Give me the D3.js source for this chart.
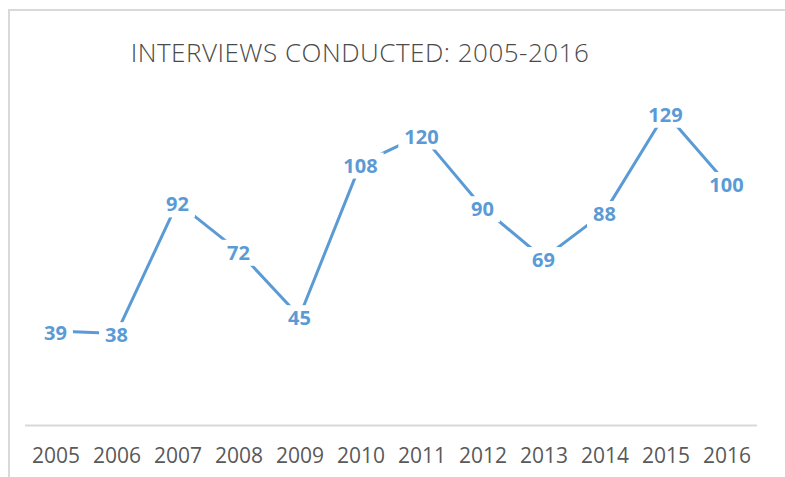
<!DOCTYPE html>
<html>
<head>
<meta charset="utf-8">
<script src="https://cdn.jsdelivr.net/npm/d3@7"></script>
<style>
  html, body { margin: 0; padding: 0; background: #fff; }
  svg { display: block; }
</style>
</head>
<body>
<script>
const years = ["2005","2006","2007","2008","2009","2010","2011","2012","2013","2014","2015","2016"];
const interviews = [39, 38, 92, 72, 45, 108, 120, 90, 69, 88, 129, 100];
const chartTitle = "INTERVIEWS CONDUCTED: 2005-2016";
const yDomain = [0, 140];

const W = 785, H = 477;
const svg = d3.select("body").append("svg").attr("width", W).attr("height", H);

// chart area border
svg.append("rect")
  .attr("x", 9).attr("y", 10).attr("width", 900).attr("height", 600)
  .attr("fill", "#fff").attr("stroke", "#d9d9d9").attr("stroke-width", 2);

const plot = { left: 25, right: 757, top: 86.4, bottom: 425.5 };

const x = d3.scalePoint().domain(years).range([plot.left, plot.right]).padding(0.5);
const y = d3.scaleLinear().domain(yDomain).range([plot.bottom, plot.top]);

// title
svg.append("text")
  .attr("x", 360).attr("y", 52)
  .attr("text-anchor", "middle")
  .attr("dominant-baseline", "central")
  .attr("font-family", "Open Sans")
  .attr("font-weight", 300)
  .attr("font-size", 26)
  .attr("letter-spacing", 0.5)
  .attr("fill", "#4a4a4a")
  .text(chartTitle);

// x axis
const xAxis = d3.axisBottom(x).tickSize(0).tickPadding(0);
const gx = svg.append("g").attr("transform", `translate(0,${y(0)})`).call(xAxis);
gx.select(".domain").attr("d", `M${plot.left},0H${plot.right}`)
  .attr("stroke", "#d9d9d9").attr("stroke-width", 2);
gx.selectAll(".tick text")
  .attr("y", 30).attr("dy", "0.35em")
  .attr("font-family", "Open Sans")
  .attr("font-size", 21)
  .attr("fill", "#595959");

// line
const line = d3.line().x((d, i) => x(years[i])).y(d => y(d));
svg.append("path")
  .datum(interviews)
  .attr("d", line)
  .attr("fill", "none")
  .attr("stroke", "#5b9bd5")
  .attr("stroke-width", 3)
  .attr("stroke-linejoin", "round");

// labels with white background boxes
const lg = svg.append("g");
const labels = lg.selectAll("g").data(interviews).join("g")
  .attr("transform", (d, i) => `translate(${x(years[i])},${y(d) + 1.5})`);
labels.append("text")
  .attr("text-anchor", "middle")
  .attr("dy", "0.36em")
  .attr("font-family", "Open Sans")
  .attr("font-weight", 700)
  .attr("font-size", 20)
  .attr("fill", "#5b9bd5")
  .text(d => d);
labels.each(function() {
  const t = d3.select(this).select("text");
  const bb = t.node().getBBox();
  d3.select(this).insert("rect", "text")
    .attr("x", bb.x - 6).attr("y", bb.y + 1)
    .attr("width", bb.width + 12).attr("height", bb.height - 1)
    .attr("fill", "#fff");
});
</script>
</body>
</html>
